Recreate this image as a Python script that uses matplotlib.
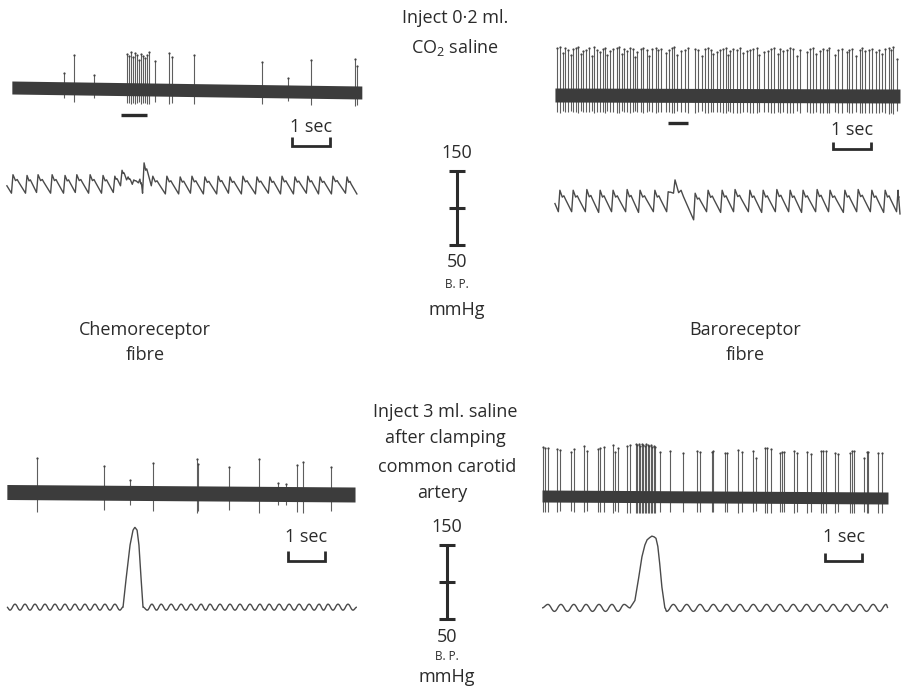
import numpy as np
import matplotlib
matplotlib.use("Agg")
import matplotlib.pyplot as plt
from matplotlib.path import Path
from matplotlib.patches import PathPatch

plt.rcParams['font.family'] = ['Open Sans', 'DejaVu Sans']
plt.rcParams['mathtext.fontset'] = 'custom'
plt.rcParams['mathtext.rm'] = 'Open Sans'

# ---- chemoreceptor fibre, 0.2 ml CO2 saline (time in s) ----
chemo_co2_band_t = [0.18, 9.39]
chemo_co2_band_mid = [2.5, -2.5]
chemo_co2_spike_t = [1.55, 1.82, 2.34, 3.21, 3.26, 3.32, 3.37, 3.42, 3.47, 3.53, 3.58,
                     3.63, 3.68, 3.74, 3.79, 3.95, 4.32, 4.39, 4.97, 6.76, 7.45, 8.05,
                     9.21, 9.26]
chemo_co2_spike_amp = [17, 35, 15, 36, 34, 38, 33, 37, 35, 30, 36, 34, 32, 35, 38, 29,
                       37, 33, 35, 28, 12, 30, 31, 24]
chemo_co2_stim = [3.05, 3.74]

# blood pressure (mmHg) for the same record
bp_chemo_co2_t = [0.21, 0.58, 0.87, 1.24, 1.58, 1.89, 2.24, 2.58, 2.89, 3.08, 3.24,
                  3.39, 3.55, 3.66, 3.89, 4.26, 4.61, 4.92, 5.26, 5.61, 5.92, 6.26,
                  6.63, 6.97, 7.29, 7.63, 7.97, 8.29, 8.63, 9.00]
bp_chemo_co2_peak = [145, 144, 145, 145, 144, 145, 145, 144, 143, 151, 142, 138, 139,
                     161, 143, 143, 142, 143, 142, 143, 142, 143, 142, 142, 143, 142,
                     143, 142, 143, 142]
bp_chemo_co2_trough = [120, 120, 121, 120, 120, 121, 120, 120, 121, 130, 138, 132, 134,
                       120, 130, 119, 119, 120, 119, 119, 120, 119, 119, 120, 119, 119,
                       120, 119, 119, 120]
bp_chemo_co2_ends = [(0.05, 130), (9.26, 119)]

# ---- baroreceptor fibre, 0.2 ml CO2 saline ----
baro_co2_band_t = [0.13, 9.21]
baro_co2_band_mid = [0, -1]
baro_co2_spike_t = [0.18, 0.26, 0.34, 0.39, 0.47, 0.55, 0.61, 0.68, 0.74, 0.82, 0.87,
                    0.95, 1.03, 1.11, 1.16, 1.24, 1.32, 1.39, 1.45, 1.50, 1.58, 1.66,
                    1.76, 1.82, 1.89, 1.95, 2.03, 2.11, 2.18, 2.24, 2.29, 2.39, 2.45,
                    2.55, 2.61, 2.68, 2.79, 2.84, 2.92, 3.05, 3.13, 3.21, 3.26, 3.34,
                    3.45, 3.55, 3.63, 3.82, 3.89, 4.00, 4.08, 4.16, 4.24, 4.29, 4.39,
                    4.47, 4.55, 4.63, 4.68, 4.74, 4.82, 4.92, 5.00, 5.08, 5.18, 5.26,
                    5.34, 5.45, 5.50, 5.63, 5.74, 5.82, 5.89, 6.00, 6.05, 6.13, 6.24,
                    6.32, 6.39, 6.50, 6.58, 6.76, 6.84, 6.92, 7.00, 7.11, 7.18, 7.29,
                    7.34, 7.50, 7.58, 7.68, 7.82, 7.87, 7.95, 8.05, 8.16, 8.21, 8.29,
                    8.39, 8.47, 8.58, 8.66, 8.74, 8.82, 8.92, 8.97, 9.03, 9.13]
baro_co2_spike_amp = [47, 48, 42, 47, 45, 40, 46, 47, 48, 41,
                      44, 45, 47, 39, 48, 45, 43, 46, 47, 40,
                      44, 46, 47, 48, 41, 46, 44, 47, 46, 38,
                      43, 46, 47, 45, 39, 46, 47, 45, 46, 42,
                      45, 47, 48, 40, 44, 45, 47, 46, 45, 39,
                      46, 47, 45, 41, 43, 45, 46, 47, 40, 44,
                      46, 45, 47, 42, 44, 45, 46, 47, 40, 43,
                      44, 46, 47, 41, 46, 44, 45, 47, 46, 39,
                      45, 43, 46, 47, 41, 44, 46, 45, 47, 40,
                      45, 46, 43, 45, 46, 39, 45, 47, 44, 45,
                      46, 43, 45, 41, 46, 47, 45, 48, 36]
baro_co2_stim = [3.11, 3.63]

bp_baro_co2_t = [0.26, 0.61, 0.97, 1.32, 1.66, 2.03, 2.37, 2.76, 3.11, 3.29, 3.82,
                 4.16, 4.53, 4.87, 5.26, 5.61, 5.97, 6.32, 6.66, 7.03, 7.37, 7.76,
                 8.11, 8.47, 8.82, 9.16]
bp_baro_co2_peak = [124, 124, 125, 124, 124, 125, 124, 124, 122, 138, 120, 124, 124,
                    125, 124, 124, 125, 124, 124, 125, 124, 124, 125, 124, 124, 124]
bp_baro_co2_trough = [95, 95, 95, 94, 95, 95, 94, 95, 95, 120, 84, 95, 94, 95, 95, 94,
                      95, 95, 94, 95, 95, 94, 95, 95, 94, 95]
bp_baro_co2_ends = [(0.13, 106), (9.21, 92)]

# ---- chemoreceptor fibre, 3 ml saline after clamping ----
chemo_clamp_band_t = [0.05, 9.46]
chemo_clamp_band_mid = [0, -2.5]
chemo_clamp_spike_t = [0.86, 2.68, 3.38, 4.00, 5.19, 5.22, 6.05, 6.86, 7.38, 7.59,
                       7.89, 8.05, 8.81]
chemo_clamp_spike_amp = [34, 26, 12, 29, 33, 28, 25, 33, 9, 8, 27, 30, 25]

bp_chemo_clamp_waves_a = [0.27, 0.54, 0.81, 1.08, 1.35, 1.62, 1.89, 2.16, 2.43, 2.70,
                          2.97]
bp_chemo_clamp_pulse_t = [3.19, 3.27, 3.38, 3.46, 3.51, 3.57, 3.62, 3.68, 3.73]
bp_chemo_clamp_pulse_p = [66, 103, 150, 170, 174, 170, 150, 103, 66]
bp_chemo_clamp_waves_b = [3.97, 4.22, 4.49, 4.76, 5.03, 5.30, 5.54, 5.81, 6.08, 6.35,
                          6.62, 6.89, 7.14, 7.41, 7.68, 7.95, 8.22, 8.49, 8.73, 9.00,
                          9.27]
bp_chemo_clamp_span = [0.05, 9.51]
bp_chemo_clamp_mean = 66
bp_chemo_clamp_swing = 4

# ---- baroreceptor fibre, 3 ml saline after clamping ----
baro_clamp_band_t = [0.19, 9.54]
baro_clamp_band_mid = [0, -2]
baro_clamp_spike_t = [0.21, 0.27, 0.36, 0.59, 0.68, 0.96, 1.05, 1.32, 1.41, 1.71, 1.76,
                      1.86, 2.10, 2.16, 2.25, 2.48, 2.57,
                      2.73, 2.77, 2.81, 2.85, 2.89, 2.93, 2.97, 3.01, 3.05, 3.09, 3.13,
                      3.17, 3.21, 3.25,
                      3.38, 3.65, 3.99, 4.37, 4.46, 4.78, 4.82, 5.14, 5.20, 5.49, 5.59,
                      5.88, 5.97, 6.22, 6.28, 6.37, 6.62, 6.68, 6.73, 7.01, 7.09, 7.36,
                      7.45, 7.73, 7.79, 7.86, 8.11, 8.20, 8.51, 8.56, 8.62, 8.89, 8.96,
                      9.01, 9.28, 9.37]
baro_clamp_spike_amp = [49, 48, 48, 47, 46, 44, 47, 50, 45, 47, 48, 49, 51, 44, 48, 50, 51,
                        52, 51, 52, 50, 52, 51, 50, 52, 51, 50, 51, 49, 50, 49,
                        44, 45, 43, 45, 44, 44, 45, 43, 43, 46, 44, 45, 38, 48, 48, 47,
                        43, 44, 44, 45, 43, 44, 42, 45, 45, 45, 43, 42, 43, 45, 45, 38,
                        44, 44, 43, 43]

bp_baro_clamp_waves_a = [0.35, 0.70, 1.05, 1.38, 1.73, 2.08, 2.41]
bp_baro_clamp_pulse_t = [2.57, 2.70, 2.80, 2.89, 2.97, 3.03, 3.10, 3.16, 3.22, 3.27,
                         3.32, 3.37, 3.43, 3.51]
bp_baro_clamp_pulse_p = [65, 75, 105, 134, 150, 157, 160, 162, 161, 159, 148, 125, 93, 65]
bp_baro_clamp_waves_b = [3.74, 4.10, 4.46, 4.82, 5.18, 5.54, 5.90, 6.26, 6.62, 6.98,
                         7.34, 7.70, 8.06, 8.42, 8.78, 9.14, 9.49]
bp_baro_clamp_span = [0.19, 9.54]
bp_baro_clamp_mean = 65
bp_baro_clamp_swing = 4.7

bp_scale_ticks = [50, 100, 150]

INK = '#2b2b2b'
BAND = '#3c3c3c'
SPIKE = '#5e5e5e'
TRACE = '#4a4a4a'

W, H = 909, 698
fig = plt.figure(figsize=(W / 100, H / 100), dpi=100)
fig.patch.set_facecolor('white')


def px_axes(left, top, width, height):
    ax = fig.add_axes([left / W, 1 - (top + height) / H, width / W, height / H])
    ax.axis('off')
    return ax


def unit_axes(left, top, width, height, zero, pps):
    ax = px_axes(left, top, width, height)
    ax.set_xlim(0, width / pps)
    ax.set_ylim(zero - (top + height), zero - top)
    return ax


def bp_axes(left, top, width, height, pps, y150, y50):
    ax = px_axes(left, top, width, height)
    k = 100.0 / (y50 - y150)
    ax.set_xlim(0, width / pps)
    ax.set_ylim(150 - (top + height - y150) * k, 150 + (y150 - top) * k)
    return ax


def fig_text(x, y, s, size=13, **kw):
    fig.text(x / W, 1 - y / H, s, ha='center', va='center', fontsize=size,
             color=INK, **kw)


def draw_unit(ax, band_t, band_mid, half, spike_t, spike_amp, depth=0.22):
    base = np.interp(spike_t, band_t, band_mid)
    amp = np.asarray(spike_amp, float)
    ax.vlines(spike_t, base, amp, color=SPIKE, lw=0.8, zorder=2)
    ax.vlines(spike_t, base, base - half - depth * (amp - base), color=SPIKE,
              lw=0.8, zorder=2)
    ax.plot(spike_t, amp, 'o', ms=1.6, color='#444444', mec='none', zorder=3)
    lo = [m - half for m in band_mid]
    hi = [m + half for m in band_mid]
    ax.fill_between(band_t, lo, hi, color=BAND, lw=0, zorder=4)


def time_bar(ax, t0, t1, bottom, top, label_y):
    ax.plot([t0, t0, t1, t1], [top, bottom, bottom, top], color=INK, lw=2.0,
            solid_joinstyle='miter', solid_capstyle='butt')
    ax.text((t0 + t1) / 2, label_y, '1 sec', ha='center', va='center',
            fontsize=13, color=INK)


def pulse_trace(peak_t, peak_p, trough_p, ends):
    ts, ps = [ends[0][0]], [ends[0][1]]
    n = len(peak_t)
    for i in range(n):
        ts += [peak_t[i] - 0.04, peak_t[i]]
        ps += [trough_p[i], peak_p[i]]
        nxt_t = peak_t[i + 1] if i + 1 < n else ends[1][0]
        nxt_p = trough_p[i + 1] if i + 1 < n else ends[1][1]
        gap = nxt_t - peak_t[i]
        drop = peak_p[i] - nxt_p
        for f, d in ((0.18, 0.32), (0.3, 0.26), (0.42, 0.42)):
            ts.append(peak_t[i] + f * gap)
            ps.append(peak_p[i] - d * drop)
    ts.append(ends[1][0])
    ps.append(ends[1][1])
    return ts, ps


def wave_knots(peaks, mean, swing, t0, t1):
    knots = [(t0, mean)]
    for i, tp in enumerate(peaks):
        g = tp - peaks[i - 1] if i > 0 else peaks[1] - peaks[0]
        if tp - g / 2 > knots[-1][0]:
            knots.append((tp - g / 2, mean - swing))
        knots.append((tp, mean + swing))
    g = peaks[-1] - peaks[-2]
    if peaks[-1] + g / 2 < t1:
        knots.append((peaks[-1] + g / 2, mean - swing))
    knots.append((t1, mean))
    return knots


def smooth_into(verts, codes, knots):
    for (ta, va), (tb, vb) in zip(knots[:-1], knots[1:]):
        dt = tb - ta
        verts += [(ta + 0.4 * dt, va), (tb - 0.4 * dt, vb), (tb, vb)]
        codes += [Path.CURVE4] * 3


def clamp_trace(ax, waves_a, pulse_t, pulse_p, waves_b, span, mean, swing):
    left = wave_knots(waves_a, mean, swing, span[0], pulse_t[0])
    right = wave_knots(waves_b, mean, swing, pulse_t[-1], span[1])
    verts, codes = [left[0]], [Path.MOVETO]
    smooth_into(verts, codes, left)
    for t, p in zip(pulse_t[1:], pulse_p[1:]):
        verts.append((t, p))
        codes.append(Path.LINETO)
    smooth_into(verts, codes, right)
    ax.add_patch(PathPatch(Path(verts, codes), fill=False, edgecolor=TRACE, lw=1.0))


def bp_scale(left, top, y150, y50):
    ax = bp_axes(left, top, 20, 100, 1, y150, y50)
    ax.set_xlim(-1.2, 1.2)
    ax.vlines(0, bp_scale_ticks[0], bp_scale_ticks[-1], color=INK, lw=2.2)
    ax.hlines(bp_scale_ticks, -1, 1, color=INK, lw=2.2)


# top left: chemoreceptor, CO2 saline
ax = unit_axes(5, 40, 365, 115, 90, 38)
draw_unit(ax, chemo_co2_band_t, chemo_co2_band_mid, 6.5, chemo_co2_spike_t,
          chemo_co2_spike_amp)
ax.plot(chemo_co2_stim, [-25, -25], color=INK, lw=2.4, solid_capstyle='butt')
time_bar(ax, 7.55, 8.55, -56, -47, -37)

ax = bp_axes(5, 150, 365, 100, 38, 171, 245)
t, p = pulse_trace(bp_chemo_co2_t, bp_chemo_co2_peak, bp_chemo_co2_trough,
                   bp_chemo_co2_ends)
ax.plot(t, p, color=TRACE, lw=1.0)

# top right: baroreceptor, CO2 saline
ax = unit_axes(550, 35, 359, 120, 95, 38)
draw_unit(ax, baro_co2_band_t, baro_co2_band_mid, 7, baro_co2_spike_t,
          baro_co2_spike_amp)
ax.plot(baro_co2_stim, [-28, -28], color=INK, lw=2.4, solid_capstyle='butt')
time_bar(ax, 7.45, 8.45, -54, -47, -35)

ax = bp_axes(550, 150, 359, 100, 38, 171, 245)
t, p = pulse_trace(bp_baro_co2_t, bp_baro_co2_peak, bp_baro_co2_trough,
                   bp_baro_co2_ends)
ax.plot(t, p, color=TRACE, lw=1.0)

# bottom left: chemoreceptor, saline after clamping
ax = unit_axes(5, 440, 365, 130, 492, 37)
draw_unit(ax, chemo_clamp_band_t, chemo_clamp_band_mid, 7.5, chemo_clamp_spike_t,
          chemo_clamp_spike_amp, depth=0.35)
time_bar(ax, 7.65, 8.65, -69, -59, -45)

ax = bp_axes(5, 505, 365, 125, 37, 545, 619)
clamp_trace(ax, bp_chemo_clamp_waves_a, bp_chemo_clamp_pulse_t, bp_chemo_clamp_pulse_p,
            bp_chemo_clamp_waves_b, bp_chemo_clamp_span, bp_chemo_clamp_mean,
            bp_chemo_clamp_swing)

# bottom right: baroreceptor, saline after clamping
ax = unit_axes(535, 430, 374, 140, 496, 37)
draw_unit(ax, baro_clamp_band_t, baro_clamp_band_mid, 6, baro_clamp_spike_t,
          baro_clamp_spike_amp, depth=0.2)
time_bar(ax, 7.84, 8.84, -65, -57, -41)

ax = bp_axes(535, 505, 374, 125, 37, 545, 619)
clamp_trace(ax, bp_baro_clamp_waves_a, bp_baro_clamp_pulse_t, bp_baro_clamp_pulse_p,
            bp_baro_clamp_waves_b, bp_baro_clamp_span, bp_baro_clamp_mean,
            bp_baro_clamp_swing)

# pressure calibration bars
bp_scale(447, 160, 171, 245)
bp_scale(437, 532, 545, 619)

# labels
fig_text(455, 18, 'Inject 0\u00b72 ml.')
fig_text(455, 47, 'CO$_\\mathrm{2}$ saline')
fig_text(457, 153, '150')
fig_text(457, 262, '50')
fig_text(457, 285, 'B. P.', size=8.5)
fig_text(457, 310, 'mmHg')

fig_text(145, 330, 'Chemoreceptor')
fig_text(145, 355, 'fibre')
fig_text(745, 330, 'Baroreceptor')
fig_text(745, 355, 'fibre')

fig_text(445, 412, 'Inject 3 ml. saline')
fig_text(445, 438, 'after clamping')
fig_text(447, 467, 'common carotid')
fig_text(442, 493, 'artery')
fig_text(447, 527, '150')
fig_text(447, 637, '50')
fig_text(447, 657, 'B. P.', size=8.5)
fig_text(447, 677, 'mmHg')

fig.savefig('out.png', dpi=100, facecolor='white')
